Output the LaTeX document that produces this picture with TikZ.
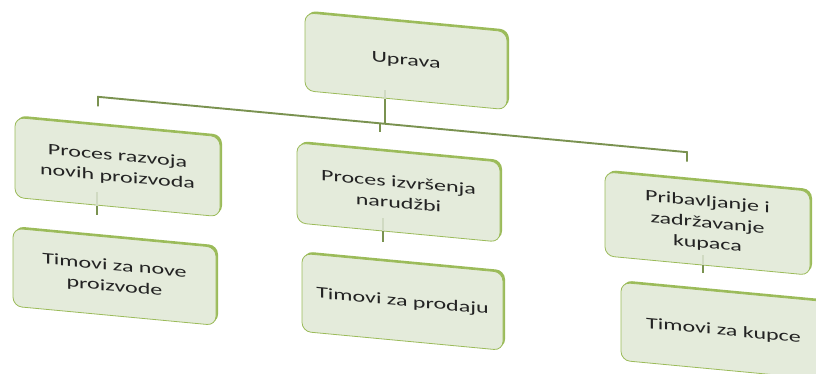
\documentclass[tikz,border=0pt]{standalone}
\usepackage{fontspec}
\newfontfamily\boxfont[FakeStretch=1.5]{Carlito}
\usetikzlibrary{shadows,calc}
\definecolor{boxfill}{RGB}{228,235,219}
\definecolor{boxedge}{RGB}{155,187,89}
\definecolor{conncol}{RGB}{122,146,80}
\definecolor{faint}{RGB}{208,218,194}
\definecolor{txt}{RGB}{35,35,35}
\begin{document}
\begin{tikzpicture}[x=1pt,y=-1pt,
  orgbox/.style={draw=boxedge, line width=0.8pt, fill=boxfill, rounded corners=9pt,
    align=center, text=txt, font=\boxfont\fontsize{16}{21}\selectfont, inner sep=0pt,
    copy shadow={shadow xshift=2pt, shadow yshift=2pt, fill=boxedge, draw=none}},
  conn/.style={draw=conncol, line width=1.9pt},
  faintline/.style={draw=faint, line width=1.5pt}]
\useasboundingbox (0,0) rectangle (816,373);
\clip (0,0) rectangle (816,373);
\fill[white] (0,0) rectangle (816,373);
\begin{scope}[cm={1,-0.094,0,1,(0,0)}, transform shape]
  \node[orgbox, minimum width=202pt, minimum height=78pt] (up) at (406,23) {Uprava};
  \node[orgbox, minimum width=205pt, minimum height=80pt] (p1) at (117.5,156) {Proces razvoja\\novih proizvoda};
  \node[orgbox, minimum width=203pt, minimum height=80pt] (p2) at (398.5,155) {Proces izvršenja\\narudžbi};
  \node[orgbox, minimum width=205pt, minimum height=84pt] (p3) at (707.5,157) {Pribavljanje i\\zadržavanje\\kupaca};
  \node[orgbox, minimum width=203pt, minimum height=78pt] (t1) at (114.5,266) {Timovi za nove\\proizvode};
  \node[orgbox, minimum width=201pt, minimum height=78pt] (t2) at (402.5,264) {Timovi za prodaju};
  \node[orgbox, minimum width=205pt, minimum height=78pt] (t3) at (723.5,263) {Timovi za kupce};

  \coordinate (ux) at (385,0);
  \coordinate (barL) at (98,87.6);
  \coordinate (barR) at (687,87.6);
  \coordinate (barM) at (380,87.6);
  \coordinate (c1) at (97,0);
  \coordinate (c2) at (383,0);
  \coordinate (c3) at (703,0);

  % faint parts of connectors inside boxes
  \draw[faintline] (ux |- up.south) -- ++(0,-9);
  \draw[faintline] (c1 |- p1.south) -- ++(0,-14);
  \draw[faintline] (c2 |- p2.south) -- ++(0,-13);
  \draw[faintline] (c3 |- p3.south) -- ++(0,-10);

  % connectors
  \draw[conn] (ux |- up.south) -- (ux |- barL);
  \draw[conn, shorten <=18.4pt, shorten >=17.5pt] (barL |- p1.north) -- (barL) -- (barR) -- (barR |- p3.north);
  \draw[conn, shorten >=18.5pt] (barM) -- (barM |- p2.north);
  \draw[conn, shorten >=21pt] (c1 |- p1.south) -- (c1 |- t1.north);
  \draw[conn, shorten >=19pt] (c2 |- p2.south) -- (c2 |- t2.north);
  \draw[conn, shorten >=17pt] (c3 |- p3.south) -- (c3 |- t3.north);
\end{scope}
\end{tikzpicture}
\end{document}
